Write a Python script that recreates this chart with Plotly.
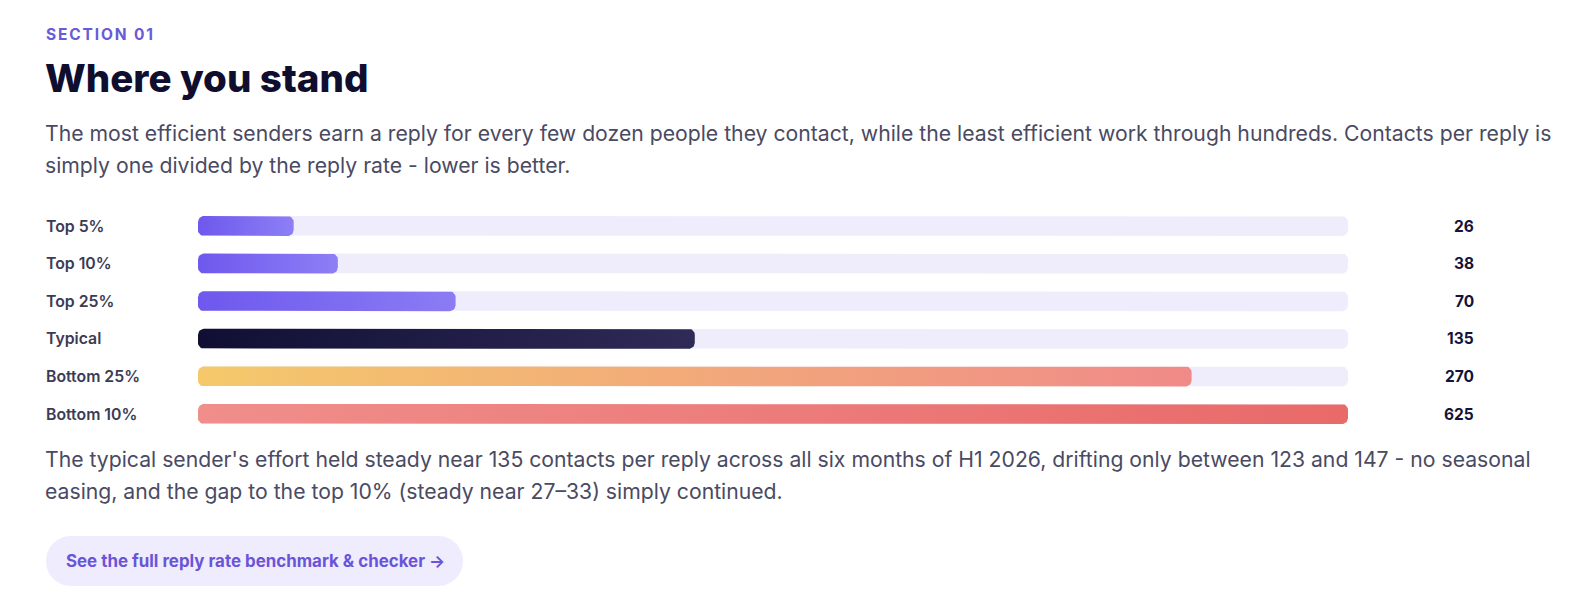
import math
import plotly.graph_objects as go

# ---------------- data ----------------
rows = ["Top 5%", "Top 10%", "Top 25%", "Typical", "Bottom 25%", "Bottom 10%"]
values = [26, 38, 70, 135, 270, 625]
value_labels = ["26", "38", "70", "135", "270", "625"]
grad_start = ["#6e58ee", "#6e58ee", "#6e58ee", "#100f33", "#f4c96b", "#f08e8b"]
grad_end = ["#8d7ff5", "#8d7ff5", "#8b7cf3", "#2e2b57", "#f08a89", "#e86a69"]

section_label = "SECTION 01"
heading = "Where you stand"
intro_lines = [
    "The most efficient senders earn a reply for every few dozen people they contact, while the least efficient work through hundreds. Contacts per reply is",
    "simply one divided by the reply rate - lower is better.",
]
outro_lines = [
    "The typical sender's effort held steady near 135 contacts per reply across all six months of H1 2026, drifting only between 123 and 147 - no seasonal",
    "easing, and the gap to the top 10% (steady near 27\u201333) simply continued.",
]
button_text = "See the full reply rate benchmark & checker \u2192"

# scale: track spans half of the largest value, longer bars are capped
scale_max = max(values) / 2

# ---------------- layout geometry (pixels) ----------------
W, H = 1587, 606
track_x0, track_x1 = 198, 1348
row_top_c, row_step = 226, 37.6
bar_h = 20
radius = 6
pad = 4

kx = (track_x1 - track_x0) / scale_max    # px per value unit
ky = row_step                              # px per row unit


def px_x(x):
    return x / W


def px_y(y):
    return 1 - y / H


def rounded_rect(x0, x1, yc):
    r = min(radius, (x1 - x0) * kx / 2, bar_h / 2)
    rx, ry = r / kx, r / ky
    hh = bar_h / 2 / ky
    corners = [
        (x1 - rx, yc + hh - ry, 0, 90),
        (x0 + rx, yc + hh - ry, 90, 180),
        (x0 + rx, yc - hh + ry, 180, 270),
        (x1 - rx, yc - hh + ry, 270, 360),
    ]
    xs, ys = [], []
    for cx, cy, a0, a1 in corners:
        for i in range(9):
            t = math.radians(a0 + (a1 - a0) * i / 8)
            xs.append(cx + rx * math.cos(t))
            ys.append(cy + ry * math.sin(t))
    xs.append(xs[0])
    ys.append(ys[0])
    return xs, ys


fig = go.Figure()

for i, (name, v) in enumerate(zip(rows, values)):
    # track
    tx, ty = rounded_rect(0, scale_max, i)
    fig.add_trace(go.Scatter(
        x=tx, y=ty, mode="lines", fill="toself", fillcolor="#efedfc",
        line=dict(width=0, color="rgba(0,0,0,0)"), hoverinfo="skip", showlegend=False,
    ))
    # bar
    end = min(v, scale_max)
    bx, by = rounded_rect(0, end, i)
    fig.add_trace(go.Scatter(
        x=bx, y=by, mode="lines", fill="toself",
        fillgradient=dict(type="horizontal", start=0, stop=end,
                          colorscale=[[0, grad_start[i]], [1, grad_end[i]]]),
        line=dict(width=0, color="rgba(0,0,0,0)"), name=name,
        hoverinfo="skip", showlegend=False,
    ))

ann = []
FONT = "Inter"
for i, name in enumerate(rows):
    ann.append(dict(x=px_x(44), xref="paper", y=i, yref="y", text=name,
                    xanchor="left", yanchor="middle", showarrow=False,
                    font=dict(family=FONT, size=15.8, color="#3b3b55", weight=600)))
    ann.append(dict(x=px_x(1476), xref="paper", y=i, yref="y", text=value_labels[i],
                    xanchor="right", yanchor="middle", showarrow=False,
                    font=dict(family=FONT, size=15.5, color="#14133a", weight=700)))

ann.append(dict(x=px_x(44), y=px_y(34), xref="paper", yref="paper", text=section_label,
                xanchor="left", yanchor="middle", align="left", showarrow=False,
                font=dict(family=FONT, size=15.5, color="#6b5ad8", weight=700)))
ann.append(dict(x=px_x(43), y=px_y(78), xref="paper", yref="paper", text=heading,
                xanchor="left", yanchor="middle", showarrow=False,
                font=dict(family=FONT, size=38.5, color="#0f0e2f", weight=800)))
for j, line in enumerate(intro_lines):
    ann.append(dict(x=px_x(43), y=px_y(132.5 + 32 * j), xref="paper", yref="paper", text=line,
                    xanchor="left", yanchor="middle", showarrow=False,
                    font=dict(family=FONT, size=21.2, color="#4a4a63", weight=400)))
for j, line in enumerate(outro_lines):
    ann.append(dict(x=px_x(43), y=px_y(459 + 32 * j), xref="paper", yref="paper", text=line,
                    xanchor="left", yanchor="middle", showarrow=False,
                    font=dict(family=FONT, size=21.2, color="#4a4a63", weight=400)))
ann.append(dict(x=px_x(64), y=px_y(561), xref="paper", yref="paper", text=button_text,
                xanchor="left", yanchor="middle", showarrow=False,
                font=dict(family=FONT, size=16.9, color="#6a55d8", weight=700)))

# button pill
bx0, bx1, by0, by1 = 46, 463, 536, 586
br = (by1 - by0) / 2
k = 0.5523 * br
pill = (
    f"M {px_x(bx0 + br)},{px_y(by0)} L {px_x(bx1 - br)},{px_y(by0)} "
    f"C {px_x(bx1 - br + k)},{px_y(by0)} {px_x(bx1)},{px_y(by0 + br - k)} {px_x(bx1)},{px_y(by0 + br)} "
    f"C {px_x(bx1)},{px_y(by0 + br + k)} {px_x(bx1 - br + k)},{px_y(by1)} {px_x(bx1 - br)},{px_y(by1)} "
    f"L {px_x(bx0 + br)},{px_y(by1)} "
    f"C {px_x(bx0 + br - k)},{px_y(by1)} {px_x(bx0)},{px_y(by1 - br + k)} {px_x(bx0)},{px_y(by1 - br)} "
    f"C {px_x(bx0)},{px_y(by0 + br - k)} {px_x(bx0 + br - k)},{px_y(by0)} {px_x(bx0 + br)},{px_y(by0)} Z"
)

n = len(rows)
y_top_px = row_top_c - row_step / 2
y_bot_px = row_top_c + row_step * (n - 0.5)

fig.update_layout(
    width=W, height=H,
    margin=dict(l=0, r=0, t=0, b=0),
    paper_bgcolor="white", plot_bgcolor="rgba(0,0,0,0)",
    xaxis=dict(domain=[px_x(track_x0 - pad), px_x(track_x1 + pad)],
               range=[-pad / kx, scale_max + pad / kx],
               visible=False, fixedrange=True),
    yaxis=dict(domain=[px_y(y_bot_px), px_y(y_top_px)],
               range=[n - 0.5, -0.5], visible=False, fixedrange=True),
    annotations=ann,
    shapes=[dict(type="path", xref="paper", yref="paper", path=pill,
                 fillcolor="#efecfd", line=dict(width=0), layer="below")],
    showlegend=False,
)

post = """
document.body.style.margin = '0';
document.body.style.padding = '0';
var gd = document.getElementById('{plot_id}');
function spaceSection() {
  gd.querySelectorAll('.annotation-text').forEach(function (t) {
    if (t.textContent === 'SECTION 01') { t.style.letterSpacing = '0.12em'; }
  });
}
spaceSection();
gd.on('plotly_afterplot', spaceSection);
"""

fig.write_html("out.html", config={"displayModeBar": False, "responsive": False},
               post_script=post)
